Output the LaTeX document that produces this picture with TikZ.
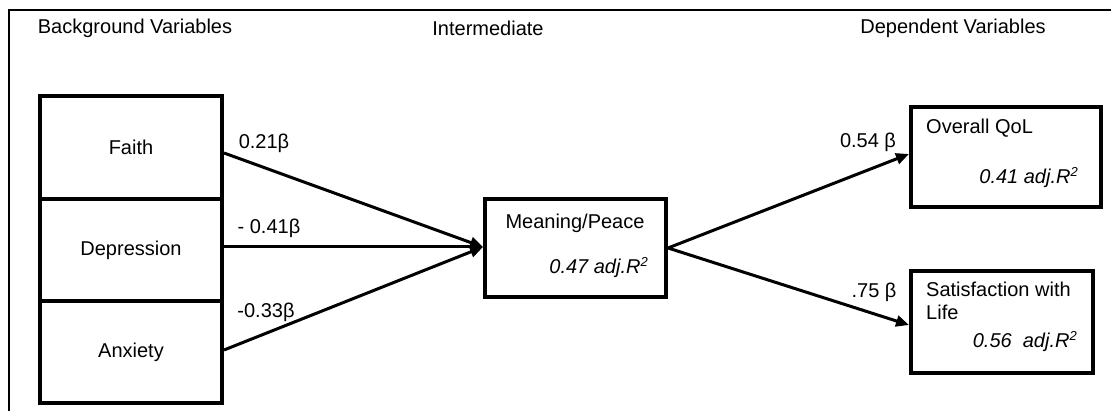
\documentclass[tikz,border=0pt]{standalone}
\usepackage{fontspec}
\setmainfont{Liberation Sans}
\usetikzlibrary{arrows.meta,calc}
\newcommand{\rsq}{R\raisebox{7pt}{\fontsize{13}{13}\selectfont 2}}
\begin{document}
\begin{tikzpicture}[x=1pt,y=-1pt,
  every node/.style={font=\fontsize{20}{23}\selectfont},
  varbox/.style={draw,line width=4pt,inner sep=0pt},
  lbl/.style={inner sep=0pt,anchor=center},
  conn/.style={line width=3pt,-{Triangle[length=13pt,width=11pt]}},
  frameline/.style={line width=1.5pt}]
\useasboundingbox (0,0) rectangle (1111,411);
% frame
\coordinate (fbl) at (9,411);
\coordinate (ftl) at (9,10);
\coordinate (ftr) at (1111,10);
\draw[frameline] (fbl) -- (ftl) -- (ftr);
% headers
\node[lbl] (h1) at (135,28) {Background Variables};
\node[lbl] (h2) at (488,28) {Intermediate};
\node[lbl] (h3) at (953,28) {Dependent Variables};
% left boxes
\node[varbox,minimum width=182pt,minimum height=103pt] (faith) at (131,147.5) {Faith};
\node[varbox,minimum width=182pt,minimum height=102pt] (dep) at (131,250) {Depression};
\node[varbox,minimum width=182pt,minimum height=102pt] (anx) at (131,352.5) {Anxiety};
% meaning box
\node[varbox,minimum width=181pt,minimum height=98pt] (mean) at (575.5,248) {};
\node[lbl] (meant) at (575,223) {Meaning/Peace};
\node[lbl,anchor=east] (meanr) at (648,268) {\itshape 0.47 adj.\rsq};
% overall box
\node[varbox,minimum width=190pt,minimum height=100pt] (qol) at (1006,157) {};
\node[lbl,anchor=west] (qolt) at (926,128) {Overall QoL};
\node[lbl,anchor=east] (qolr) at (1078,178) {\itshape 0.41 adj.\rsq};
% satisfaction box
\node[varbox,minimum width=182pt,minimum height=102pt] (sat) at (1002,322) {};
\node[lbl,anchor=north west,align=left,font=\fontsize{20}{23}\selectfont] (satt) at (926,282) {Satisfaction with\\Life};
\node[lbl,anchor=east] (satr) at (1077,342) {\itshape 0.56\ \ adj.\rsq};
% connectors
\coordinate (mw) at ($(mean.west)+(0,-1)$);
\draw[conn] ($(faith.east)+(0,5.5)$) -- (mw);
\draw[conn] ($(dep.east)+(0,-3)$) -- (mw);
\draw[conn] ($(anx.east)+(0,-2.5)$) -- (mw);
\draw[conn] (mean.east) -- ($(qol.west)+(0,-3)$);
\draw[conn] (mean.east) -- ($(sat.west)+(0,3)$);
% labels
\node[lbl] (l1) at (264,143) {0.21β};
\node[lbl] (l2) at (269,228) {- 0.41β};
\node[lbl] (l3) at (266,312) {-0.33β};
\node[lbl] (l4) at (868,142) {0.54 β};
\node[lbl] (l5) at (874,292) {.75 β};
\end{tikzpicture}
\end{document}
